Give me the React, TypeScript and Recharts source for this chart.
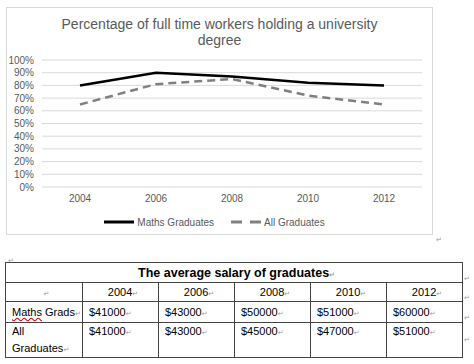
import { CartesianGrid, Legend, Line, LineChart, XAxis, YAxis } from "recharts";

const years = ["2004", "2006", "2008", "2010", "2012"];
const mathsPct = [80, 90, 87, 82, 80];
const allPct = [65, 81, 85, 72, 65];
const yTicks = [0, 10, 20, 30, 40, 50, 60, 70, 80, 90, 100];

const mathsSalary = ["$41000", "$43000", "$50000", "$51000", "$60000"];
const allSalary = ["$41000", "$43000", "$45000", "$47000", "$51000"];

const data = years.map((year, i) => ({ year, maths: mathsPct[i], all: allPct[i] }));

const GREY = "#595959";
const mark = <span style={{ fontSize: 7, lineHeight: 1, color: "#999", fontFamily: "DejaVu Sans" }}>↵</span>;

function ChartLegend() {
  return (
    <div style={{ display: "flex", justifyContent: "center", alignItems: "center", height: 20, paddingTop: 5, fontSize: 10, color: GREY, fontFamily: "Liberation Sans" }}>
      <svg width={30} height={6}>
        <line x1={0} y1={3} x2={30} y2={3} stroke="#000" strokeWidth={3} />
      </svg>
      <span style={{ marginLeft: 3, marginRight: 17 }}>Maths Graduates</span>
      <svg width={30} height={6}>
        <line x1={0} y1={3} x2={30} y2={3} stroke="#808080" strokeWidth={3} strokeDasharray="11 8" />
      </svg>
      <span style={{ marginLeft: 3 }}>All Graduates</span>
    </div>
  );
}

const cell: React.CSSProperties = {
  border: "1px solid #444",
  padding: "0 1px 0 6px",
  verticalAlign: "middle",
  lineHeight: "14px",
  whiteSpace: "nowrap",
  overflow: "hidden",
};

export default function App() {
  return (
    <div style={{ position: "absolute", left: 0, top: 0, width: 474, height: 364, background: "#fff" }}>
      <div style={{ position: "absolute", left: 6, top: 7, width: 425, height: 226, border: "1px solid #d9d9d9" }}>
        <div style={{ position: "absolute", left: 0, top: 8, width: 425, textAlign: "center", fontFamily: "Liberation Sans", fontSize: 14, lineHeight: "16px", color: GREY }}>
          Percentage of full time workers holding a university
          <br />
          degree
        </div>
        <LineChart width={425} height={226} data={data} margin={{ top: 52, right: 10, left: 0, bottom: 1 }}>
          <CartesianGrid vertical={false} stroke="#d9d9d9" />
          <XAxis
            dataKey="year"
            padding={{ left: 38, right: 38 }}
            axisLine={false}
            tickLine={false}
            height={20}
            tick={{ fontSize: 10, fill: GREY, fontFamily: "Liberation Sans" }}
          />
          <YAxis
            domain={[0, 100]}
            ticks={yTicks}
            interval={0}
            width={35}
            axisLine={false}
            tickLine={false}
            tickFormatter={(v) => `${v}%`}
            tick={{ fontSize: 10, fill: GREY, fontFamily: "Liberation Sans" }}
          />
          <Legend verticalAlign="bottom" height={26} content={() => <ChartLegend />} />
          <Line dataKey="maths" stroke="#000" strokeWidth={2.5} dot={false} isAnimationActive={false} />
          <Line dataKey="all" stroke="#808080" strokeWidth={2.5} strokeDasharray="8 5" dot={false} isAnimationActive={false} />
        </LineChart>
      </div>
      <div style={{ position: "absolute", left: 436, top: 228 }}>{mark}</div>
      <div style={{ position: "absolute", left: 8, top: 249 }}>{mark}</div>

      <table
        style={{
          position: "absolute",
          left: 5,
          top: 262,
          width: 457,
          borderCollapse: "collapse",
          tableLayout: "fixed",
          fontFamily: "Liberation Sans",
          fontSize: 11,
          color: "#000",
        }}
      >
        <colgroup>
          <col style={{ width: 77 }} />
          {years.map((y) => (
            <col key={y} style={{ width: 76 }} />
          ))}
        </colgroup>
        <tbody>
          <tr style={{ height: 20 }}>
            <td colSpan={6} style={{ ...cell, textAlign: "center", fontWeight: "bold", fontSize: 12.5, lineHeight: "16px" }}>
              The average salary of graduates{mark}
            </td>
          </tr>
          <tr style={{ height: 19 }}>
            <td style={{ ...cell, textAlign: "center" }}>{mark}</td>
            {years.map((y) => (
              <td key={y} style={{ ...cell, textAlign: "center" }}>
                {y}
                {mark}
              </td>
            ))}
          </tr>
          <tr style={{ height: 21 }}>
            <td style={cell}>
              <span style={{ textDecoration: "underline wavy #d00" }}>Maths</span> Grads{mark}
            </td>
            {mathsSalary.map((v, i) => (
              <td key={i} style={cell}>
                {v}
                {mark}
              </td>
            ))}
          </tr>
          <tr style={{ height: 35 }}>
            <td style={{ ...cell, verticalAlign: "top", lineHeight: "17px" }}>
              All
              <br />
              Graduates{mark}
            </td>
            {allSalary.map((v, i) => (
              <td key={i} style={{ ...cell, verticalAlign: "top", lineHeight: "17px" }}>
                {v}
                {mark}
              </td>
            ))}
          </tr>
        </tbody>
      </table>
      {[267, 286, 306, 328].map((t) => (
        <div key={t} style={{ position: "absolute", left: 464, top: t }}>
          {mark}
        </div>
      ))}
    </div>
  );
}
